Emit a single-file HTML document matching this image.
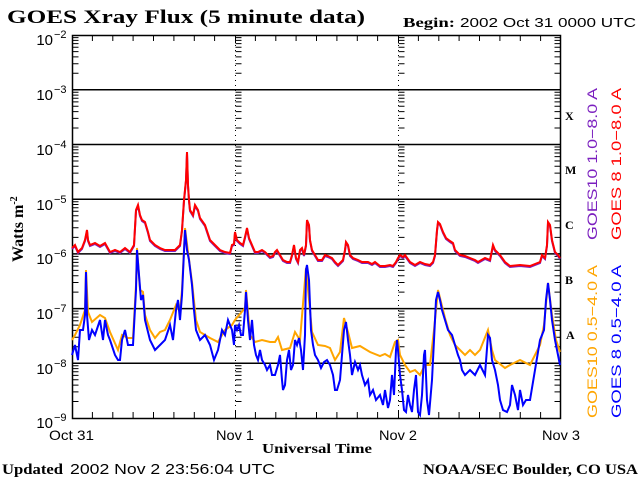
<!DOCTYPE html>
<html><head><meta charset="utf-8"><style>
html,body{margin:0;padding:0;background:#fff;}
svg{display:block;}
</style></head><body>
<svg width="640" height="480" viewBox="0 0 640 480" xmlns="http://www.w3.org/2000/svg">
<defs>
<g id="dl" stroke="#000" stroke-width="1">
<path d="M0 -16.5h6M0 -26.1h6M0 -32.9h6M0 -38.2h6M0 -42.6h6M0 -46.2h6M0 -49.4h6M0 -52.2h6"/>
</g>
<g id="dr" stroke="#000" stroke-width="1">
<path d="M0 -16.5h-6M0 -26.1h-6M0 -32.9h-6M0 -38.2h-6M0 -42.6h-6M0 -46.2h-6M0 -49.4h-6M0 -52.2h-6"/>
</g>
<g id="col">
<use href="#dl" y="418"/><use href="#dl" y="363.3"/><use href="#dl" y="308.6"/><use href="#dl" y="253.9"/><use href="#dl" y="199.2"/><use href="#dl" y="144.5"/><use href="#dl" y="89.8"/>
</g>
<g id="colr">
<use href="#dr" y="418"/><use href="#dr" y="363.3"/><use href="#dr" y="308.6"/><use href="#dr" y="253.9"/><use href="#dr" y="199.2"/><use href="#dr" y="144.5"/><use href="#dr" y="89.8"/>
</g>
<polyline id="redl" fill="none" points="72,248 75,245 78,252 82,248 85,240 87,230 88,240 90,245 95,243 100,246 105,243 110,252 115,250 120,252 125,248 130,252 134,245 136,210 138,205 140,215 142,220 145,222 148,232 150,240 155,245 160,248 165,250 170,250 175,250 180,245 182,230 184,200 186,180 187,152 188,185 189,200 190,210 193,215 195,205 198,210 200,218 205,225 210,240 215,245 220,250 225,252 230,253 232,245 234,244 235,232 237,240 240,243 243,245 245,237 247,228 249,238 252,245 255,252 258,252 262,250 265,252 270,257 273,256 275,252 277,250 280,255 283,260 287,262 290,262 292,255 294,245 296,258 298,262 300,250 302,248 304,255 306,245 307,220 309,225 310,240 312,250 315,255 318,260 322,260 325,255 328,256 332,258 335,262 338,265 340,263 343,260 345,250 346,242 348,245 350,255 353,258 358,260 362,262 368,262 372,264 375,262 380,266 385,266 390,265 393,266 396,262 398,258 400,255 403,257 405,255 410,262 415,265 420,262 425,264 430,265 433,262 435,255 437,230 438,222 440,224 443,232 446,238 450,241 453,243 455,250 458,253 460,255 465,256 470,258 475,260 478,262 485,258 490,260 492,250 493,245 495,250 497,252 500,255 505,262 510,266 520,265 530,266 540,262 542,255 545,258 547,245 548,222 550,225 552,240 555,252 558,255 560,258"/>
</defs>
<rect width="640" height="480" fill="#fff"/>
<g stroke="#000" stroke-width="1.5">
<path d="M72 89.8H561M72 144.5H561M72 199.2H561M72 253.9H561M72 308.6H561M72 363.3H561"/>
</g>
<use href="#col" x="72.5"/>
<use href="#col" x="235.5"/>
<use href="#col" x="398.5"/>
<use href="#colr" x="560.5"/>
<g stroke="#000" stroke-width="1">
<path d="M235.5 35v383M398.5 35v383" stroke-dasharray="1,4" />
<path d="M92.4 418v-6M112.8 418v-6M133.1 418v-6M153.5 418v-6M173.9 418v-6M194.3 418v-6M214.6 418v-6M235.5 418v-8M255.4 418v-6M275.8 418v-6M296.1 418v-6M316.5 418v-6M336.9 418v-6M357.3 418v-6M377.6 418v-6M398.5 418v-8M418.4 418v-6M438.8 418v-6M459.1 418v-6M479.5 418v-6M499.9 418v-6M520.3 418v-6M540.6 418v-6"/>
<path d="M92.4 35v6M112.8 35v6M133.1 35v6M153.5 35v6M173.9 35v6M194.3 35v6M214.6 35v6M235.5 35v8M255.4 35v6M275.8 35v6M296.1 35v6M316.5 35v6M336.9 35v6M357.3 35v6M377.6 35v6M398.5 35v8M418.4 35v6M438.8 35v6M459.1 35v6M479.5 35v6M499.9 35v6M520.3 35v6M540.6 35v6"/>
</g>
<rect x="72.5" y="35.5" width="488" height="383" fill="none" stroke="#000" stroke-width="1.5"/>

<polyline fill="none" stroke="#ffa500" stroke-width="2" points="72,340 75,335 80,325 85,310 86,270 88,312 92,322 100,315 105,318 110,332 118,350 122,335 128,338 133,338 136,285 137,248 140,290 143,292 145,315 150,330 155,338 160,332 165,330 170,320 176,305 180,312 182,290 185,228 188,252 192,282 196,320 200,332 210,338 218,342 225,330 232,325 235,320 245,308 246,290 250,335 255,342 262,340 270,342 275,342 278,337 282,350 290,348 295,332 300,340 306,268 312,332 318,345 325,346 330,348 335,360 340,352 344,318 348,332 352,348 360,346 370,352 380,356 385,354 390,357 395,342 398,340 400,355 405,365 410,372 415,370 420,375 425,365 430,365 434,330 438,290 445,318 450,335 455,345 460,350 465,355 470,350 475,355 480,350 488,330 492,350 495,360 505,368 510,365 520,360 530,365 540,345 544,325 548,283 552,315 556,340 560,352"/>
<polyline fill="none" stroke="#0000ff" stroke-width="2" points="72,355 75,345 78,360 80,330 83,330 85,315 86,272 87,315 89,340 92,330 95,335 100,320 103,340 105,320 108,335 110,340 115,355 118,360 120,360 122,340 125,330 128,345 130,345 133,345 136,290 137,250 139,275 141,300 143,295 145,320 150,340 155,350 160,345 165,340 170,325 173,340 176,310 178,300 180,320 182,295 185,230 187,250 189,260 192,285 194,310 196,330 200,340 205,335 210,345 214,360 218,350 222,330 225,335 228,320 232,330 234,345 235,325 237,330 239,325 241,335 243,335 245,310 246,292 248,320 250,340 252,320 254,345 256,355 258,360 260,350 262,360 265,365 267,370 270,365 272,375 275,375 278,365 280,355 282,380 283,390 285,385 287,360 289,350 291,370 293,365 295,340 297,345 299,338 301,350 303,370 305,335 306,270 307,265 309,280 311,330 313,345 315,355 318,360 321,368 324,362 327,360 330,365 333,375 335,390 337,390 340,380 342,355 344,330 346,322 348,340 350,355 352,375 355,362 358,370 360,365 362,375 365,385 368,380 370,395 373,390 376,400 380,395 383,405 385,390 388,408 390,400 392,375 394,395 396,350 397,340 398,350 400,375 402,390 404,410 406,412 408,395 410,405 412,412 414,390 416,375 418,412 420,415 422,395 424,355 425,350 427,400 429,415 432,380 434,340 436,300 438,292 440,300 442,310 445,320 448,330 452,335 455,345 458,355 460,360 462,370 465,375 470,370 475,375 480,365 485,375 488,335 490,338 492,360 495,370 498,385 500,400 503,410 507,412 510,405 512,385 515,395 518,410 520,390 523,405 526,400 530,400 535,370 540,340 544,330 546,300 548,283 550,300 552,320 555,340 558,355 560,365"/>
<use href="#redl" y="1" stroke="#7b1fbf" stroke-width="2"/>
<use href="#redl" stroke="#ff0000" stroke-width="2"/>

<g font-family="'Liberation Serif', serif" font-weight="bold" fill="#000">
<text x="7" y="23" font-size="19" textLength="358" lengthAdjust="spacingAndGlyphs">GOES Xray Flux (5 minute data)</text>
<text x="403" y="27" font-size="14" textLength="52" lengthAdjust="spacingAndGlyphs">Begin:</text>
<text x="262" y="453" font-size="14" textLength="110" lengthAdjust="spacingAndGlyphs">Universal Time</text>
<text x="2" y="474" font-size="15" textLength="61" lengthAdjust="spacingAndGlyphs">Updated</text>
<text x="423" y="474" font-size="15" textLength="215" lengthAdjust="spacingAndGlyphs">NOAA/SEC Boulder, CO USA</text>
<text x="23" y="262" font-size="16" transform="rotate(-90 23 262)">Watts m<tspan font-size="10" dy="-6">-2</tspan></text>
<g font-size="12">
<text x="565" y="120">X</text><text x="565" y="174">M</text><text x="565" y="229">C</text><text x="565" y="284">B</text><text x="566" y="339">A</text>
</g>
</g>
<g font-family="'Liberation Sans', sans-serif" fill="#000">
<text x="460" y="27" font-size="13" textLength="176" lengthAdjust="spacingAndGlyphs">2002 Oct 31 0000 UTC</text>
<text x="70" y="474" font-size="15" textLength="205" lengthAdjust="spacingAndGlyphs">2002 Nov  2 23:56:04 UTC</text>
<g font-size="14">
<text x="49" y="440" textLength="45" lengthAdjust="spacingAndGlyphs">Oct 31</text><text x="216" y="440" textLength="38" lengthAdjust="spacingAndGlyphs">Nov 1</text><text x="379" y="440" textLength="38" lengthAdjust="spacingAndGlyphs">Nov 2</text><text x="542" y="440" textLength="38" lengthAdjust="spacingAndGlyphs">Nov 3</text>
</g>
<g font-size="15" text-anchor="end">
<text x="53" y="45">10</text><text x="53" y="100">10</text><text x="53" y="155">10</text><text x="53" y="210">10</text><text x="53" y="264">10</text><text x="53" y="319">10</text><text x="53" y="374">10</text><text x="53" y="428">10</text>
</g>
<g font-size="11">
<text x="54" y="38">−2</text><text x="54" y="93">−3</text><text x="54" y="148">−4</text><text x="54" y="203">−5</text><text x="54" y="257">−6</text><text x="54" y="312">−7</text><text x="54" y="367">−8</text><text x="54" y="421">−9</text>
</g>
<g font-size="14">
<text x="597" y="240" fill="#7b1fbf" transform="rotate(-90 597 240)" textLength="152" lengthAdjust="spacingAndGlyphs">GOES10 1.0−8.0 A</text>
<text x="621" y="240" fill="#ff0000" transform="rotate(-90 621 240)" textLength="152" lengthAdjust="spacingAndGlyphs">GOES 8 1.0−8.0 A</text>
<text x="597" y="418" fill="#ffa500" transform="rotate(-90 597 418)" textLength="153" lengthAdjust="spacingAndGlyphs">GOES10 0.5−4.0 A</text>
<text x="621" y="418" fill="#0000ff" transform="rotate(-90 621 418)" textLength="153" lengthAdjust="spacingAndGlyphs">GOES 8 0.5−4.0 A</text>
</g>
</g>
</svg>
</body></html>
